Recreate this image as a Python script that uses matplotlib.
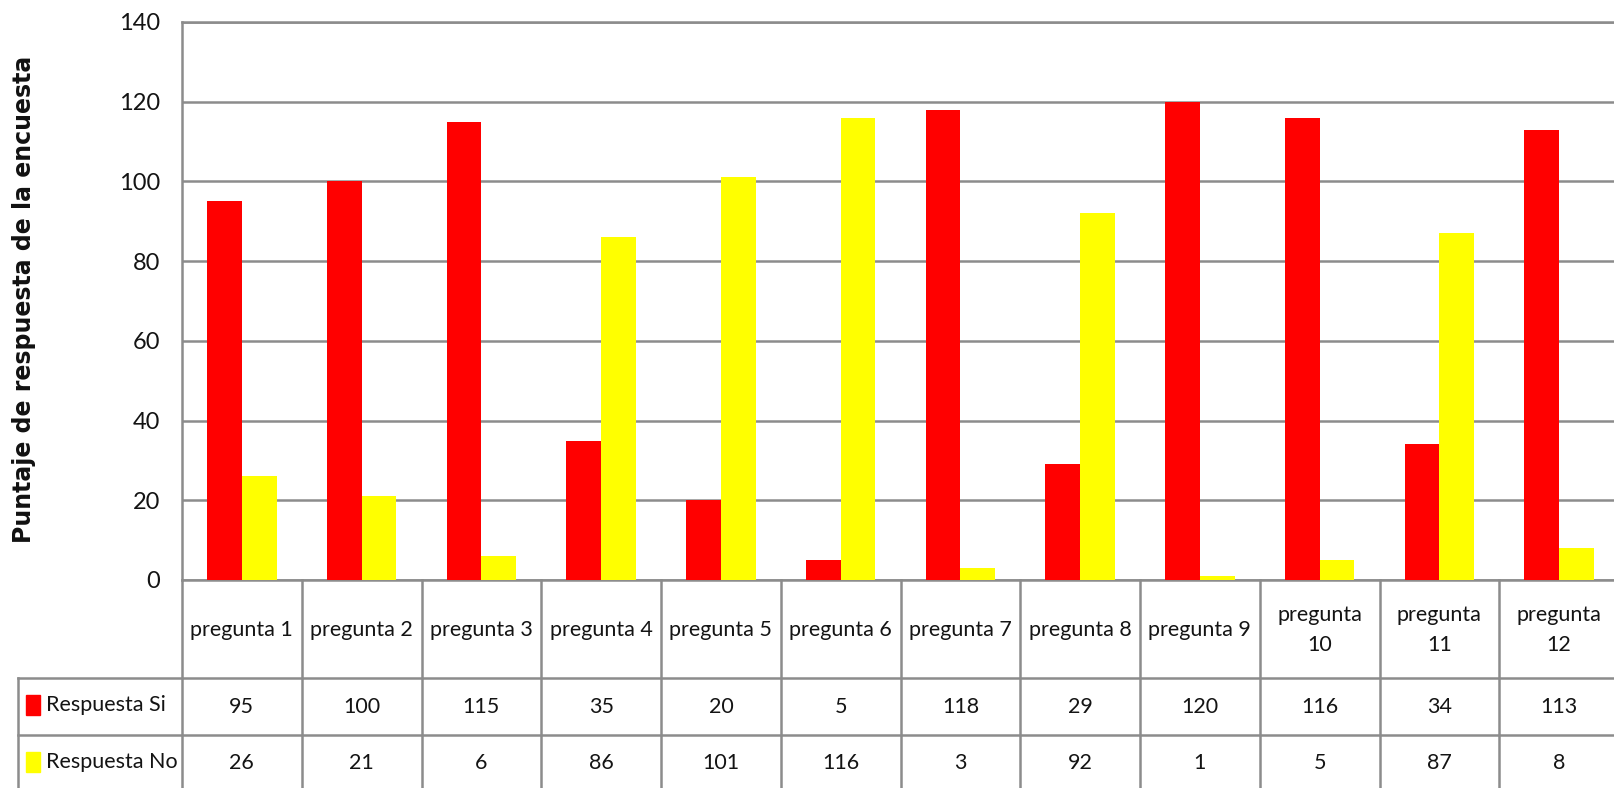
import numpy as np
import matplotlib
matplotlib.use("Agg")
import matplotlib.pyplot as plt

categories = ["pregunta 1", "pregunta 2", "pregunta 3", "pregunta 4", "pregunta 5",
              "pregunta 6", "pregunta 7", "pregunta 8", "pregunta 9", "pregunta\n10",
              "pregunta\n11", "pregunta\n12"]
series_names = ["Respuesta Si", "Respuesta No"]
si = [95, 100, 115, 35, 20, 5, 118, 29, 120, 116, 34, 113]
no = [26, 21, 6, 86, 101, 116, 3, 92, 1, 5, 87, 8]
yticks = [0, 20, 40, 60, 80, 100, 120, 140]
ylabel = "Puntaje de respuesta de la encuesta"

RED = "#FF0000"
YEL = "#FFFF00"
GRID = "#8c8c8c"
FONT = "Lato"
TXT = "#141414"
TFS = 15.5

W, H = 1614, 788
L, R, T, B = 182, 1619, 22, 580
fig = plt.figure(figsize=(W / 100, H / 100), dpi=100)
ax = fig.add_axes([L / W, 1 - B / H, (R - L) / W, (B - T) / H])

x = np.arange(len(categories))
w = 0.29
ax.bar(x - w / 2, si, w, color=RED, zorder=3)
ax.bar(x + w / 2, no, w, color=YEL, zorder=3)

ax.set_xlim(-0.5, len(categories) - 0.5)
ax.set_ylim(0, 140)
ax.set_yticks(yticks)
ax.set_xticks([])
ax.yaxis.grid(True, color=GRID, lw=1.8, zorder=0)
ax.tick_params(axis="y", length=0, pad=16, labelsize=17, labelcolor=TXT)
for lab in ax.get_yticklabels():
    lab.set_fontfamily(FONT)
for s in ["left", "top", "bottom"]:
    ax.spines[s].set_color(GRID)
    ax.spines[s].set_linewidth(1.8)
ax.spines["right"].set_visible(False)

fig.text(24 / W, 1 - 299 / H, ylabel, rotation=90, ha="center", va="center",
         fontsize=17, fontweight="bold", family="DejaVu Sans", color="#111111")

# table drawing helpers (x in data, y in axes fraction)
tr = ax.get_xaxis_transform()
ppx = 1.0 / (B - T)
xscale = (R - L) / len(categories)


def yf(ypix):
    return (B - ypix) * ppx


def xd(xpix):
    return -0.5 + (xpix - L) / xscale


row_head_bot = 678
row_si_bot = 735
row_bottom = 800
left_tab = 18

for k in range(len(categories) + 1):
    ax.plot([k - 0.5, k - 0.5], [yf(B), yf(row_bottom)], color=GRID, lw=1.8,
            transform=tr, clip_on=False)
ax.plot([xd(left_tab), xd(left_tab)], [yf(row_head_bot), yf(row_bottom)], color=GRID,
        lw=1.8, transform=tr, clip_on=False)
for yy in [row_head_bot, row_si_bot]:
    ax.plot([xd(left_tab), len(categories)], [yf(yy), yf(yy)], color=GRID, lw=1.8,
            transform=tr, clip_on=False)

for i, c in enumerate(categories):
    ax.text(i, yf(630), c, ha="center", va="center", fontsize=TFS, family=FONT,
            color=TXT, transform=tr, linespacing=1.6)
    ax.text(i, yf(707), str(si[i]), ha="center", va="center", fontsize=TFS, family=FONT,
            color=TXT, transform=tr)
    ax.text(i, yf(763), str(no[i]), ha="center", va="center", fontsize=TFS, family=FONT,
            color=TXT, transform=tr)

for name, col, yc in [(series_names[0], RED, 705), (series_names[1], YEL, 762)]:
    ax.add_patch(plt.Rectangle((xd(26), yf(yc + 10)), (14 / xscale), 20 * ppx,
                               transform=tr, color=col, clip_on=False))
    ax.text(xd(46), yf(yc), name, ha="left", va="center", fontsize=TFS, family=FONT,
            color=TXT, transform=tr)

fig.savefig("out.png", dpi=100)
